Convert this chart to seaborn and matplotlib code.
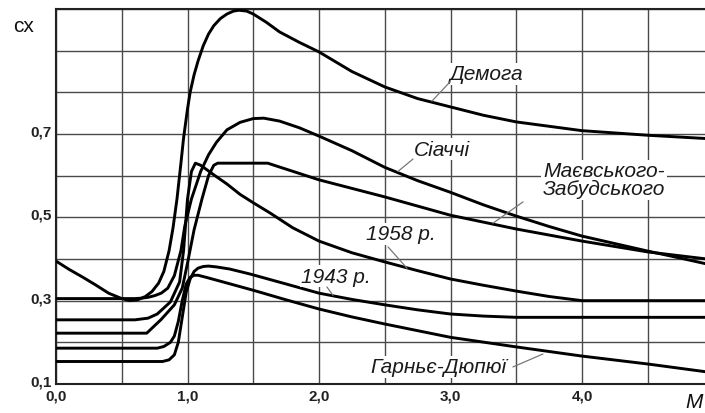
import numpy as np
import pandas as pd
import matplotlib
matplotlib.use("Agg")
import matplotlib.pyplot as plt
import matplotlib.transforms as mtransforms
import seaborn as sns

# ---------------- data ----------------
demoga_M = [0.0, 0.1, 0.2, 0.3, 0.4, 0.5, 0.56, 0.62, 0.68, 0.73, 0.78, 0.82, 0.86, 0.89, 0.92, 0.95,
            0.97, 1.0, 1.02, 1.05, 1.08, 1.12, 1.16, 1.2, 1.25, 1.3, 1.35, 1.39, 1.45, 1.5, 1.6, 1.7,
            1.85, 2.0, 2.25, 2.5, 2.75, 3.0, 3.25, 3.5, 4.0, 4.5, 4.95]
demoga_cx = [0.395, 0.375, 0.357, 0.338, 0.318, 0.305, 0.300, 0.302, 0.310, 0.322, 0.342, 0.37, 0.42,
             0.475, 0.544, 0.63, 0.69, 0.76, 0.80, 0.842, 0.875, 0.912, 0.94, 0.96, 0.977, 0.988,
             0.995, 0.997, 0.995, 0.988, 0.968, 0.945, 0.92, 0.897, 0.85, 0.813, 0.785, 0.765,
             0.745, 0.729, 0.708, 0.697, 0.689]

siacci_M = [0.0, 0.3, 0.6, 0.65, 0.7, 0.75, 0.8, 0.85, 0.9, 0.95, 0.98, 1.03, 1.1, 1.16, 1.22, 1.3,
            1.4, 1.5, 1.58, 1.7, 1.85, 2.0, 2.25, 2.5, 2.75, 3.0, 3.25, 3.5, 3.75, 4.0, 4.25, 4.5,
            4.75, 4.95]
siacci_cx = [0.305, 0.305, 0.305, 0.306, 0.308, 0.312, 0.318, 0.33, 0.36, 0.42, 0.48, 0.544, 0.61,
             0.65, 0.68, 0.71, 0.728, 0.737, 0.738, 0.731, 0.715, 0.695, 0.66, 0.62, 0.588, 0.56,
             0.53, 0.503, 0.478, 0.455, 0.437, 0.419, 0.402, 0.388]

mz_M = [0.0, 0.69, 0.8, 0.9, 0.96, 1.0, 1.05, 1.11, 1.16, 1.2, 1.23, 1.61, 2.0, 2.5, 3.0, 3.5, 4.0,
        4.5, 4.95]
mz_cx = [0.222, 0.222, 0.255, 0.29, 0.33, 0.39, 0.47, 0.544, 0.60, 0.625, 0.63, 0.63, 0.59, 0.549,
         0.505, 0.472, 0.443, 0.417, 0.40]

y1958_M = [0.0, 0.6, 0.7, 0.77, 0.87, 0.94, 0.97, 1.0, 1.03, 1.06, 1.1, 1.2, 1.3, 1.4, 1.5, 1.63,
           1.8, 2.0, 2.25, 2.5, 2.75, 3.0, 3.25, 3.5, 3.75, 4.0, 4.95]
y1958_cx = [0.254, 0.254, 0.258, 0.268, 0.297, 0.345, 0.42, 0.544, 0.61, 0.63, 0.625, 0.602, 0.58,
            0.555, 0.535, 0.51, 0.475, 0.443, 0.415, 0.393, 0.372, 0.352, 0.337, 0.323, 0.31,
            0.30, 0.30]

garnier_M = [0.0, 0.77, 0.82, 0.87, 0.9, 0.93, 0.96, 0.99, 1.02, 1.05, 1.08, 1.13, 1.2, 1.35, 1.5,
             1.75, 2.0, 2.25, 2.5, 2.75, 3.0, 3.5, 4.0, 4.5, 4.95]
garnier_cx = [0.186, 0.186, 0.19, 0.20, 0.215, 0.25, 0.30, 0.34, 0.356, 0.361, 0.361, 0.357, 0.351,
              0.338, 0.325, 0.302, 0.28, 0.261, 0.244, 0.228, 0.212, 0.189, 0.167, 0.148, 0.129]

y1943_M = [0.0, 0.81, 0.86, 0.9, 0.93, 0.96, 0.99, 1.02, 1.05, 1.08, 1.12, 1.16, 1.22, 1.32, 1.475,
           1.75, 2.0, 2.25, 2.5, 2.75, 3.0, 3.25, 3.5, 4.95]
y1943_cx = [0.154, 0.154, 0.158, 0.17, 0.20, 0.26, 0.32, 0.352, 0.370, 0.378, 0.382, 0.383, 0.381,
            0.376, 0.364, 0.34, 0.318, 0.303, 0.29, 0.278, 0.268, 0.263, 0.26, 0.26]

curve_names = ["Демога", "Сіаччі", "Маєвського-\nЗабудського", "1958 р.", "1943 р.", "Гарньє-Дюпюї"]

x_grid = [0.0, 0.5, 1.0, 1.5, 2.0, 2.5, 3.0, 3.5, 4.0, 4.5]
x_tick_labels = ["0,0", "", "1,0", "", "2,0", "", "3,0", "", "4,0", ""]
y_grid = [0.1, 0.2, 0.3, 0.4, 0.5, 0.6, 0.7, 0.8, 0.9, 1.0]
y_tick_labels = ["0,1", "", "0,3", "", "0,5", "", "0,7", "", "", ""]

# ---------------- figure ----------------
sns.set_theme(style="white")
plt.rcParams["font.family"] = ["Liberation Sans", "DejaVu Sans"]

fig = plt.figure(figsize=(7.05, 4.14), dpi=100)
ax = fig.add_axes([56 / 705, 29 / 414, 1 - 56 / 705, 375 / 414])

series = [(demoga_M, demoga_cx), (siacci_M, siacci_cx), (mz_M, mz_cx),
          (y1958_M, y1958_cx), (y1943_M, y1943_cx), (garnier_M, garnier_cx)]
for name, (m, c) in zip(curve_names, series):
    df = pd.DataFrame({"M": m, "cx": c})
    sns.lineplot(data=df, x="M", y="cx", ax=ax, color="black", lw=2.1,
                 estimator=None, sort=False, zorder=3)

ax.set_xlim(0, (705 - 56) / 131.5)
ax.set_ylim(0.1, 1.0)
ax.set_xticks(x_grid)
ax.set_xticklabels(x_tick_labels)
ax.set_yticks(y_grid)
ax.set_yticklabels(y_tick_labels)
ax.grid(True, color="#4a4a4a", lw=1.0, zorder=1)
ax.tick_params(length=0, labelsize=11, pad=3, colors="#222222")
for lab in ax.get_xticklabels() + ax.get_yticklabels():
    lab.set_fontweight("bold")
off = mtransforms.ScaledTranslation(0, 4 / 100, fig.dpi_scale_trans)
for lab in ax.get_yticklabels():
    lab.set_transform(lab.get_transform() + off)
ax.set_xlabel("")
ax.set_ylabel("")
for s in ["left", "bottom", "top"]:
    ax.spines[s].set_color("#222222")
    ax.spines[s].set_linewidth(1.5)
ax.spines["right"].set_visible(False)

# axis names
fig.text(13 / 705, 1 - 27 / 414, "cx", fontsize=15, va="center", ha="left", color="#111111")
fig.text(703 / 705, 1 - 403 / 414, "M", fontsize=15, style="italic", va="center", ha="right",
         color="#111111")

# curve labels with leaders
label_pos = [(3.278, 0.844), (2.935, 0.664), (4.167, 0.590), (2.624, 0.460), (2.129, 0.359),
             (2.905, 0.141)]
leader_from = [(2.996, 0.825), (2.715, 0.640), (3.551, 0.537), (2.525, 0.429), (2.06, 0.333),
               (3.475, 0.141)]
leader_to = [(2.859, 0.779), (2.60, 0.610), (3.323, 0.486), (2.669, 0.378), (2.106, 0.313),
             (3.703, 0.172)]
bbox = dict(facecolor="white", edgecolor="none", pad=1.0)
for name, (lx, ly), p0, p1 in zip(curve_names, label_pos, leader_from, leader_to):
    ax.text(lx, ly, name, fontsize=15, style="italic", ha="center", va="center",
            color="#1a1a1a", bbox=bbox, zorder=4, linespacing=0.95)
    ax.plot([p0[0], p1[0]], [p0[1], p1[1]], color="#777777", lw=0.9, zorder=4)

fig.savefig("out.png", dpi=100)
